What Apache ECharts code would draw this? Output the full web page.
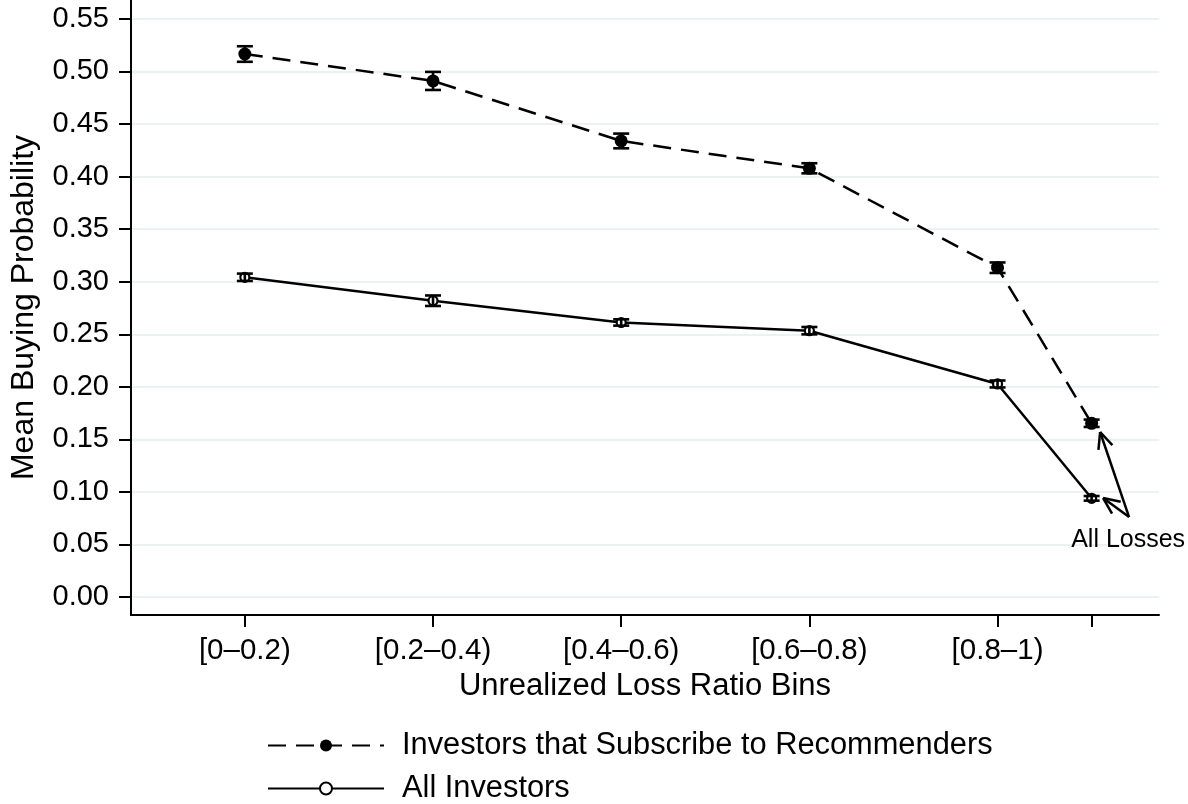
<!DOCTYPE html>
<html><head><meta charset="utf-8">
<script src="https://cdn.jsdelivr.net/npm/echarts@6/dist/echarts.min.js"></script>
<style>html,body{margin:0;padding:0;background:#fff}#c{width:1188px;height:804px}</style>
</head><body><div id="c"></div>
<script>
// ---- data ----
const categories = ['[0–0.2)', '[0.2–0.4)', '[0.4–0.6)', '[0.6–0.8)', '[0.8–1)', ''];
const xPositions = [1, 2, 3, 4, 5, 5.5];
const seriesNames = ['Investors that Subscribe to Recommenders', 'All Investors'];
const recMean = [0.5166, 0.4910, 0.4339, 0.4079, 0.3133, 0.1653];
const recErr  = [0.0074, 0.0086, 0.0070, 0.0048, 0.0050, 0.0035];
const allMean = [0.3042, 0.2819, 0.2612, 0.2534, 0.2027, 0.0939];
const allErr  = [0.0035, 0.0050, 0.0030, 0.0035, 0.0033, 0.0022];
const yTicks = [0, 0.05, 0.10, 0.15, 0.20, 0.25, 0.30, 0.35, 0.40, 0.45, 0.50, 0.55];
const yTickLabels = ['0.00','0.05','0.10','0.15','0.20','0.25','0.30','0.35','0.40','0.45','0.50','0.55'];
const xTitle = 'Unrealized Loss Ratio Bins';
const yTitle = 'Mean Buying Probability';
const annotationText = 'All Losses';
const annotationLabelAt = [5.694, 0.0542];
const annotationArrows = [[5.699, 0.0761, 5.545, 0.157], [5.699, 0.0761, 5.561, 0.0942]];

// ---- chart ----
const FONT = '"Liberation Sans", Arial, Helvetica, sans-serif';
const chart = echarts.init(document.getElementById('c'), null, {renderer: 'canvas'});

function pairs(means) { return xPositions.map((x, i) => [x, means[i]]); }
function bars(means, errs) { return xPositions.map((x, i) => [x, means[i] - errs[i], means[i] + errs[i]]); }

function errRender(params, api) {
  const x = api.value(0), lo = api.value(1), hi = api.value(2);
  const p1 = api.coord([x, hi]), p2 = api.coord([x, lo]);
  const hw = 8;
  const style = {stroke: '#000', lineWidth: 2.6};
  return {type: 'group', children: [
    {type: 'line', shape: {x1: p1[0], y1: p1[1], x2: p2[0], y2: p2[1]}, style},
    {type: 'line', shape: {x1: p1[0] - hw, y1: p1[1], x2: p1[0] + hw, y2: p1[1]}, style},
    {type: 'line', shape: {x1: p2[0] - hw, y1: p2[1], x2: p2[0] + hw, y2: p2[1]}, style}
  ]};
}

function arrowRender(params, api) {
  const a = api.coord([api.value(0), api.value(1)]);
  const b = api.coord([api.value(2), api.value(3)]);
  const ang = Math.atan2(a[1] - b[1], a[0] - b[0]);
  const L = 18, w = 0.42;
  const style = {stroke: '#000', lineWidth: 2.5};
  return {type: 'group', children: [
    {type: 'line', shape: {x1: a[0], y1: a[1], x2: b[0], y2: b[1]}, style},
    {type: 'line', shape: {x1: b[0], y1: b[1], x2: b[0] + L * Math.cos(ang + w), y2: b[1] + L * Math.sin(ang + w)}, style},
    {type: 'line', shape: {x1: b[0], y1: b[1], x2: b[0] + L * Math.cos(ang - w), y2: b[1] + L * Math.sin(ang - w)}, style}
  ]};
}

function textRender(params, api) {
  const p = api.coord([api.value(0), api.value(1)]);
  return {type: 'text', x: p[0], y: p[1], style: {text: annotationText, font: '25px ' + FONT, fill: '#000', align: 'center', verticalAlign: 'middle'}};
}

const option = {
  backgroundColor: '#fff',
  animation: false,
  textStyle: {fontFamily: FONT},
  grid: {left: 129, right: 29, top: 0, bottom: 189, containLabel: false},
  legend: {
    data: seriesNames,
    orient: 'vertical',
    left: 267, top: 730, height: 100, width: 800,
    padding: 0,
    itemWidth: 116, itemHeight: 15, itemGap: 12,
    textStyle: {fontSize: 30.8, lineHeight: 30, color: '#000', fontFamily: FONT, padding: [0, 0, 0, 13]}
  },
  xAxis: {
    type: 'value', min: 0.395, max: 5.858,
    name: xTitle, nameLocation: 'middle', nameGap: 51,
    nameTextStyle: {fontSize: 31, color: '#000', fontFamily: FONT},
    axisLine: {onZero: false, lineStyle: {color: '#000', width: 2}},
    axisTick: {show: true, length: 12, lineStyle: {color: '#000', width: 2}, customValues: xPositions},
    axisLabel: {customValues: xPositions.slice(0, 5), fontSize: 29.5, color: '#000', margin: 21, fontFamily: FONT,
      formatter: v => { const i = xPositions.indexOf(v); return i >= 0 ? categories[i] : ''; }},
    splitLine: {show: false}
  },
  yAxis: {
    type: 'value', min: -0.0171, max: 0.568,
    name: yTitle, nameLocation: 'middle', nameGap: 91, nameRotate: 90,
    nameTextStyle: {fontSize: 32, color: '#000', fontFamily: FONT},
    axisLine: {show: true, onZero: false, lineStyle: {color: '#000', width: 2}},
    axisTick: {show: true, length: 12, lineStyle: {color: '#000', width: 2}, customValues: yTicks},
    axisLabel: {customValues: yTicks, fontSize: 29, color: '#000', margin: 22, fontFamily: FONT,
      formatter: v => { const i = yTicks.findIndex(t => Math.abs(t - v) < 1e-9); return i >= 0 ? yTickLabels[i] : ''; }},
    splitLine: {show: true, lineStyle: {color: '#eaf2f3', width: 2}}
  },
  series: [
    {
      name: seriesNames[0], type: 'line', data: pairs(recMean), z: 3,
      symbol: 'circle', symbolSize: 13,
      lineStyle: {color: '#000', width: 2.5, type: [18, 10]},
      itemStyle: {color: '#000', borderColor: '#000', borderWidth: 0}
    },
    {
      name: seriesNames[1], type: 'line', data: pairs(allMean), z: 3,
      symbol: 'circle', symbolSize: 9,
      lineStyle: {color: '#000', width: 2.5, type: 'solid'},
      itemStyle: {color: '#fff', borderColor: '#000', borderWidth: 2.2}
    },
    {name: 'recErr', type: 'custom', renderItem: errRender, data: bars(recMean, recErr), encode: {x: 0, y: [1, 2]}, z: 4},
    {name: 'allErr', type: 'custom', renderItem: errRender, data: bars(allMean, allErr), encode: {x: 0, y: [1, 2]}, z: 4},
    {name: 'arrows', type: 'custom', renderItem: arrowRender, data: annotationArrows, encode: {x: [0, 2], y: [1, 3]}, z: 4, clip: false},
    {name: 'note', type: 'custom', renderItem: textRender, data: [annotationLabelAt], encode: {x: 0, y: 1}, z: 4, clip: false}
  ]
};
chart.setOption(option);
</script>
</body></html>
